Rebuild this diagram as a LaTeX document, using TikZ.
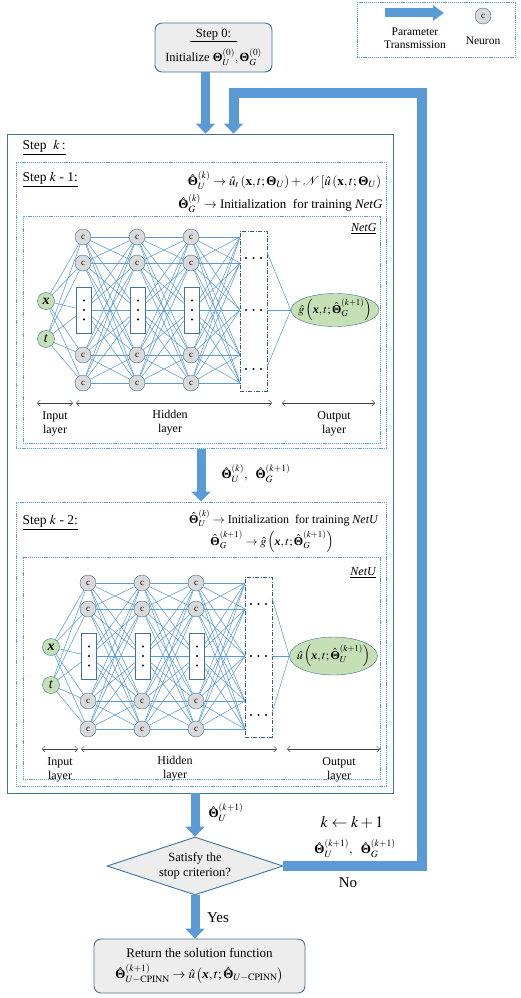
\documentclass[tikz,border=0pt]{standalone}
\usepackage{amsmath}
\usepackage{amssymb}
\usepackage{mathptmx}
\usepackage{fontspec}
\setmainfont{Liberation Serif}
\usepackage{tikz}
\usetikzlibrary{calc,arrows.meta,shapes.geometric}

\definecolor{flowblue}{HTML}{5B9BD5}
\definecolor{lineblue}{HTML}{41719C}
\definecolor{boxgray}{HTML}{EDEDED}
\definecolor{cellgray}{HTML}{D9D9D9}
\definecolor{ingreen}{HTML}{C5E0B4}

\newcommand{\thetabf}{\text{\bfseries Θ}}
\newcommand{\xbf}{\text{\bfseries\itshape x}}

\tikzset{
  neuron/.style = {circle, draw=lineblue, fill=cellgray, minimum size=16pt, inner sep=0pt, font=\fontsize{9}{9}\selectfont},
  inputcell/.style = {circle, draw=lineblue, fill=ingreen, minimum size=17pt, inner sep=0pt, font=\fontsize{14}{14}\selectfont},
  outcell/.style = {ellipse, draw=lineblue, fill=ingreen, minimum width=88pt, inner sep=0pt},
  dotcell/.style = {draw=lineblue, fill=white, minimum width=15pt, minimum height=46pt, inner sep=0pt},
  dashcell/.style = {draw=lineblue!80!black, line width=0.8pt, dash pattern=on 4pt off 1.5pt on 1pt off 1.5pt, minimum width=27pt, minimum height=160pt, inner sep=0pt},
  link/.style = {flowblue, line width=0.55pt},
  transfer/.style = {flowblue, line width=9pt, -{Triangle[width=19pt, length=10pt]}},
  dotframe/.style = {draw=flowblue, line width=1pt, dash pattern=on 1.2pt off 0.9pt, inner sep=0pt},
  roundbox/.style = {draw=lineblue, fill=boxgray, rounded corners=7pt, line width=0.9pt},
  dimline/.style = {black!75, line width=0.5pt, {Straight Barb[length=3pt, width=6pt]}-{Straight Barb[length=3pt, width=6pt]}}
}

\newcommand{\drawnet}[4]{%
  \foreach \c/\cx in {1/83,2/137,3/191} {
    \foreach \r/\ry in {1/237,2/263,4/355,5/383}
      \node (#1-\c-\r) [neuron] at (\cx,\ry) {c};
    \node (#1-\c-3) [dotcell] at (\cx+1,310) {};
    \foreach \dy in {300.5,310,319.5}
      \fill (\cx+1,\dy) circle (1.2pt);
  }
  \node (#1-x) [inputcell] at (46,301) {\textbf{\textit{x}}};
  \node (#1-t) [inputcell] at (46,339) {\textit{t}};
  \node (#1-d) [dashcell] at (253.5,311) {};
  \foreach \r/\ry in {1/237,2/263,3/310,4/355,5/383}
    \coordinate (#1-d-\r) at (240,\ry);
  \foreach \e/\ey in {1/252,2/310,3/367}
    \coordinate (#1-e-\e) at (267,\ey);
  \foreach \dy in {258,310,369}
    \foreach \dx in {246,253.5,261}
      \fill (\dx,\dy) circle (1.2pt);
  \node (#1-out) [outcell, minimum height=#4] at (#2,310) {};
  \node (#1-outtext) [font=\fontsize{12}{14}\selectfont, inner sep=0pt] at (#1-out) {#3};
  \foreach \i in {x,t}
    \foreach \s in {1,...,5}
      \draw [link] (#1-\i) -- (#1-1-\s);
  \foreach \c/\d in {1/2,2/3}
    \foreach \r in {1,...,5}
      \foreach \s in {1,...,5}
        \draw [link] (#1-\c-\r) -- (#1-\d-\s);
  \foreach \r in {1,...,5}
    \foreach \s in {1,...,5}
      \draw [link] (#1-3-\r) -- (#1-d-\s);
  \foreach \e in {1,2,3}
    \draw [link] (#1-e-\e) -- (#1-out.west);
  \draw [dimline] (37,403) -- (73,403);
  \draw [dimline] (76,403) -- (272,403);
  \draw [dimline] (282,403) -- (375,403);
  \node (#1-inlab) [align=center] at (55,424) {Input\\layer};
  \node (#1-hidlab) [align=center] at (170,423) {Hidden\\layer};
  \node (#1-outlab) [align=center] at (334,424) {Output\\layer};
}

\begin{document}
\begin{tikzpicture}[x=1pt, y=-1pt, font=\fontsize{12}{14}\selectfont]
\useasboundingbox (0,0) rectangle (520,998);

% legend
\node (legend) [dotframe, minimum width=158pt, minimum height=55pt] at (436,30.5) {};
\coordinate (legfrom) at (385,13);
\coordinate (legto) at (444,13);
\draw [transfer, -{Triangle[width=15pt, length=11pt]}] (legfrom) -- (legto);
\node (legtext) [align=center, font=\fontsize{11.5}{13}\selectfont] at (415,38) {Parameter\\Transmission};
\node (legcell) [neuron] at (483,16) {c};
\node (legname) [font=\fontsize{11.5}{13}\selectfont] at (483,41) {Neuron};

% step 0
\node (step0) [roundbox, minimum width=117pt, minimum height=49pt, align=center, font=\fontsize{12.5}{14}\selectfont] at (213.5,47.5)
  {\underline{\ \ Step 0:\ \ }\\[5pt]Initialize $\thetabf_U^{(0)},\thetabf_G^{(0)}$};

% frames
\node (stepk) [draw=lineblue, line width=0.8pt, minimum width=386pt, minimum height=659pt] at (200,463.5) {};
\node (stepone) [dotframe, minimum width=370pt, minimum height=286pt] at (201,305) {};
\node (netg) [dotframe, minimum width=357pt, minimum height=227pt] at (201.5,329.5) {};
\node (steptwo) [dotframe, minimum width=370pt, minimum height=284pt] at (201,644) {};
\node (netu) [dotframe, minimum width=357pt, minimum height=222pt] at (201.5,668) {};

% headers
\node (klab) [anchor=west, font=\fontsize{13.5}{15}\selectfont] at (19,148) {\underline{Step\ \ $k$\,:}};
\node (onelab) [anchor=west, font=\fontsize{13.5}{15}\selectfont] at (19,180) {\underline{Step $k$ - 1:}};
\node (onerulea) [anchor=east, font=\fontsize{13}{15}\selectfont] at (386,180)
  {$\hat{\thetabf}_U^{(k)}\rightarrow\hat{u}_t\left(\mathbf{x},t;\thetabf_U\right)+\mathcal{N}\left[\hat{u}\left(\mathbf{x},t;\thetabf_U\right)\right.$};
\node (oneruleb) [anchor=east, font=\fontsize{13}{15}\selectfont] at (386,203)
  {$\hat{\thetabf}_G^{(k)}\rightarrow$ Initialization\ \ for training \textit{NetG}};
\node (netglab) [anchor=east] at (380,229) {\underline{\textit{NetG}}};

\node (twolab) [anchor=west, font=\fontsize{13.5}{15}\selectfont] at (19,523) {\underline{Step $k$ - 2:}};
\node (tworulea) [anchor=east, font=\fontsize{12}{14}\selectfont] at (382,518)
  {$\hat{\thetabf}_U^{(k)}\rightarrow$ Initialization\ \ for training \textit{NetU}};
\node (tworuleb) [font=\fontsize{12}{14}\selectfont] at (272,542)
  {$\hat{\thetabf}_G^{(k+1)}\rightarrow\hat{g}\left(\xbf,t;\hat{\thetabf}_G^{(k+1)}\right)$};
\node (netulab) [anchor=east] at (380,573) {\underline{\textit{NetU}}};

% networks
\drawnet{g}{335}{$\hat{g}\left(\xbf,t;\hat{\thetabf}_G^{(k+1)}\right)$}{33pt}
\begin{scope}[shift={(5,346)}]
\drawnet{u}{328.5}{$\hat{u}\left(\xbf,t;\hat{\thetabf}_U^{(k+1)}\right)$}{38pt}
\end{scope}

% between the steps
\draw [transfer] (stepone.south) -- (steptwo.north);
\node (midtheta) [font=\fontsize{13}{15}\selectfont] at (256,473) {$\hat{\thetabf}_U^{(k)},\ \ \hat{\thetabf}_G^{(k+1)}$};

% stop test
\node (stop) [diamond, draw=lineblue, fill=boxgray, line width=0.9pt, minimum width=176pt, minimum height=58pt, inner sep=0pt, aspect=3, align=center, font=\fontsize{12.5}{15}\selectfont] at (195,866) {Satisfy the\\stop criterion?};
\node (final) [roundbox, minimum width=211pt, minimum height=54pt, align=center, font=\fontsize{13}{15}\selectfont] at (199.5,966)
  {Return the solution function\\[5pt]$\hat{\thetabf}_{U-\mathrm{CPINN}}^{(k+1)}\rightarrow\hat{u}\left(\xbf,t;\hat{\thetabf}_{U-\mathrm{CPINN}}\right)$};

\draw [transfer] ([xshift=-8pt]step0.south) -- ([xshift=-8pt]step0.south |- stepk.north);
\coordinate (loop) at (422,93);
\draw [transfer, line width=10pt] (stop.east) -| (loop) -| ([xshift=33.5pt]stepk.north);
\draw [transfer] (stepk.south -| stop.north) -- (stop.north);
\draw [transfer] (stop.south) -- (stop.south |- final.north);

\node (thetau) [anchor=west, font=\fontsize{13}{15}\selectfont] at (205,812) {$\hat{\thetabf}_U^{(k+1)}$};
\node (update) [font=\fontsize{16}{18}\selectfont] at (352,823) {$k\leftarrow k+1$};
\node (feedtheta) [font=\fontsize{13}{15}\selectfont] at (355,848) {$\hat{\thetabf}_U^{(k+1)},\ \ \hat{\thetabf}_G^{(k+1)}$};
\node (nolab) [font=\fontsize{15}{17}\selectfont] at (348,883) {No};
\node (yeslab) [font=\fontsize{15}{17}\selectfont] at (218,918) {Yes};
\end{tikzpicture}
\end{document}
